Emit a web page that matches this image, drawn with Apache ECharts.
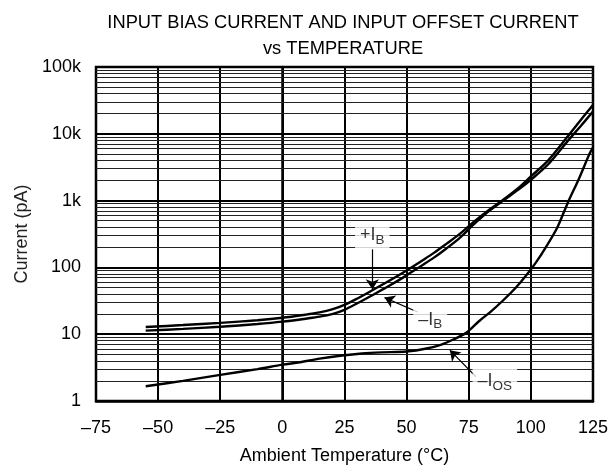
<!DOCTYPE html>
<html>
<head>
<meta charset="utf-8">
<script src="https://cdn.jsdelivr.net/npm/echarts@6/dist/echarts.min.js"></script>
<style>
  html, body { margin: 0; padding: 0; background: #fff; }
  #chart { width: 611px; height: 470px; }
</style>
</head>
<body>
<div id="chart"></div>
<script>
// ---- Data ----
const xTicks = [-75, -50, -25, 0, 25, 50, 75, 100, 125];
const yTickLabels = { 1: '1', 10: '10', 100: '100', 1000: '1k', 10000: '10k', 100000: '100k' };

const ibPlusTemp = [-55, -40, -25, -10, 0, 10, 15, 20, 25, 30, 36, 43, 50, 56, 61, 66, 71.5, 77, 83, 89, 95, 100, 107, 114.7, 120, 125];
const ibPlus     = [12.8, 13.7, 14.8, 16.2, 17.6, 19.8, 21.2, 23.5, 27.5, 34, 45, 63, 90, 125, 165, 225, 320, 480, 720, 1040, 1550, 2300, 4000, 9000, 16000, 27000];

const ibMinusTemp = [-55, -40, -25, -10, 0, 10, 15, 20, 25, 30, 36, 43, 50, 56, 61, 66, 71.5, 77, 83, 89, 95, 100, 107, 114.7, 120, 125];
const ibMinus     = [11.3, 12.0, 12.9, 14.2, 15.4, 17.2, 18.3, 20.0, 23.2, 28.8, 38, 53, 76, 106, 140, 192, 280, 440, 690, 1010, 1460, 2050, 3500, 7700, 13000, 21500];

const iosTemp = [-55, -40, -25, -10, 0, 7, 15, 24, 32, 40, 50, 58, 64, 69, 74, 79, 84, 89, 94, 98, 102, 106, 110.7, 114.7, 119.4, 123.7, 125];
const ios     = [1.66, 2.0, 2.46, 3.0, 3.5, 3.8, 4.3, 4.8, 5.15, 5.35, 5.5, 6.1, 7.0, 8.4, 10.5, 15.5, 22, 32.5, 50, 75, 118, 200, 400, 900, 2150, 5100, 6200];

// annotations: label position, arrow from -> to (data coordinates)
const annIbPlus  = { text: '+I{s|B}',  at: [36.2, 300],  from: [36.2, 186], to: [36.2, 47] };
const annIbMinus = { text: '–I{s|B}',  at: [59.5, 16.5], from: [54.4, 21.5], to: [41.1, 35.3] };
const annIos     = { text: '–I{s|OS}', at: [85.5, 2.0],  from: [77.9, 2.31], to: [67.4, 5.77] };
const annotations = [annIbPlus, annIbMinus, annIos];

const minorVals = [];
for (let d = 1; d <= 10000; d *= 10) for (let k = 2; k <= 9; k++) minorVals.push(k * d);

function zip(a, b) { return a.map((v, i) => [v, b[i]]); }

const FONT = 'Liberation Sans, Arial, Helvetica, sans-serif';
const chart = echarts.init(document.getElementById('chart'), null, { renderer: 'canvas' });

const curveStyle = { color: '#000', width: 2.4 };
function curve(name, data) {
  return {
    name, type: 'line', data, showSymbol: false, symbol: 'none',
    smooth: 0.3, lineStyle: curveStyle, itemStyle: { color: '#000' }, z: 5, silent: true, animation: false
  };
}

chart.setOption({
  backgroundColor: '#fff',
  animation: false,
  title: {
    text: 'INPUT BIAS CURRENT AND INPUT OFFSET CURRENT\nvs TEMPERATURE',
    left: 338, top: 5, textAlign: 'center',
    textStyle: { fontSize: 18.3, fontWeight: 'normal', color: '#000', fontFamily: FONT, lineHeight: 26 }
  },
  grid: { left: 96, right: 18, top: 67, bottom: 68, show: true, borderColor: '#000', borderWidth: 2.5, backgroundColor: 'transparent' },
  xAxis: {
    type: 'value', min: -75, max: 125, interval: 25,
    name: 'Ambient Temperature (°C)', nameLocation: 'middle', nameGap: 46,
    nameTextStyle: { fontSize: 18, color: '#000', fontFamily: FONT },
    axisLine: { show: true, lineStyle: { color: '#000', width: 2.5 } },
    axisTick: { show: false },
    axisLabel: { fontSize: 18, color: '#000', fontFamily: FONT, margin: 18,
      formatter: v => (v < 0 ? '–' + Math.abs(v) : String(v)) },
    splitLine: { show: true, lineStyle: { color: '#000', width: 2 } }
  },
  yAxis: {
    type: 'log', logBase: 10, min: 1, max: 100000, splitNumber: 5,
    name: 'Current (pA)', nameLocation: 'middle', nameGap: 64, nameRotate: 90,
    nameTextStyle: { fontSize: 18, color: '#222', fontFamily: FONT },
    axisLine: { show: true, lineStyle: { color: '#000', width: 2.5 } },
    axisTick: { show: false },
    axisLabel: { fontSize: 18, color: '#000', fontFamily: FONT, margin: 15, padding: [6, 0, 0, 0],
      formatter: v => yTickLabels[Math.round(v)] || '' },
    splitLine: { show: true, lineStyle: { color: '#000', width: 2 } }
  },
  series: [
    {
      type: 'line', data: [], silent: true, animation: false, z: 1,
      markLine: {
        silent: true, animation: false, symbol: 'none', label: { show: false },
        lineStyle: { color: '#222', width: 1, type: 'solid' },
        data: minorVals.map(v => ({ yAxis: v }))
      }
    },
    curve('+IB', zip(ibPlusTemp, ibPlus)),
    curve('-IB', zip(ibMinusTemp, ibMinus)),
    curve('-IOS', zip(iosTemp, ios)),
    {
      // arrows
      type: 'line', data: [], silent: true, animation: false, z: 8,
      itemStyle: { color: '#000' }, lineStyle: { color: '#000' },
      markLine: {
        silent: true, animation: false, symbol: ['none', 'arrow'], symbolSize: 10,
        itemStyle: { color: '#000' },
        lineStyle: { color: '#000', width: 1.2, type: 'solid' }, label: { show: false },
        data: annotations.map(a => [{ coord: a.from }, { coord: a.to }])
      }
    },
    {
      // annotation labels
      type: 'scatter', symbolSize: 1, itemStyle: { color: 'rgba(0,0,0,0)' }, z: 10, silent: true, animation: false,
      data: annotations.map(a => ({ value: a.at, text: a.text })),
      label: {
        show: true, position: 'inside', color: '#000', fontSize: 18, fontFamily: FONT,
        formatter: p => p.data.text,
        backgroundColor: '#fff', padding: [1, 5, 1, 5],
        rich: { s: { fontSize: 13.5, fontFamily: FONT, color: '#000', padding: [10, 0, 0, 0] } }
      }
    }
  ]
});
</script>
</body>
</html>
